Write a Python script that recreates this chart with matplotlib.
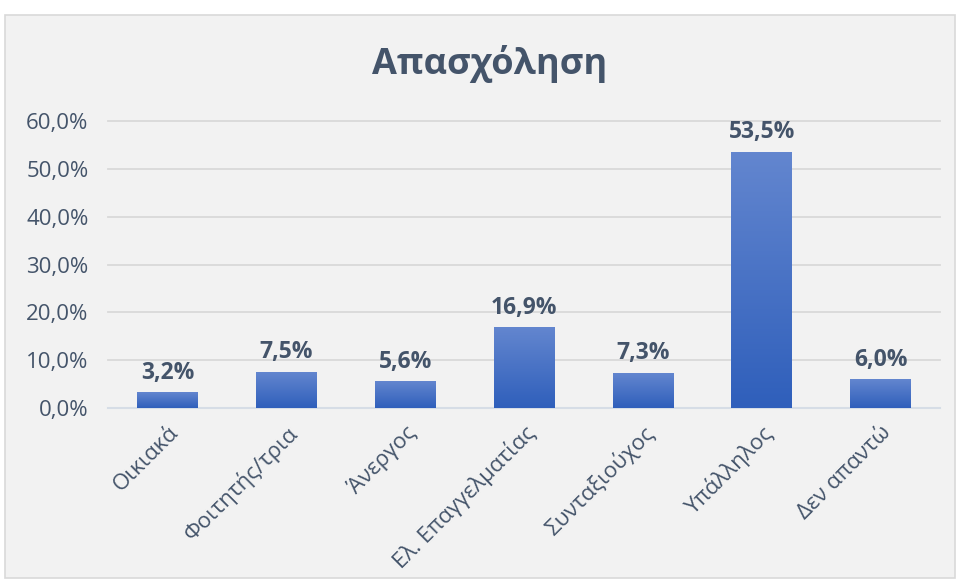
import numpy as np
import matplotlib.pyplot as plt
from matplotlib.colors import LinearSegmentedColormap
from matplotlib.patches import Rectangle

plt.rcParams["font.family"] = ["Open Sans", "DejaVu Sans"]

categories = ["Οικιακά", "Φοιτητής/τρια", "Άνεργος", "Ελ. Επαγγελματίας",
              "Συνταξιούχος", "Υπάλληλος", "Δεν απαντώ"]
values = [3.2, 7.5, 5.6, 16.9, 7.3, 53.5, 6.0]
yticks = [0, 10, 20, 30, 40, 50, 60]

TEXT = "#44546a"
BG = "#f2f2f2"
GRID = "#d9d9d9"

fig = plt.figure(figsize=(9.57, 5.81), dpi=100)
fig.patch.set_facecolor("white")
fig.patches.append(Rectangle((5 / 957, 1 - 578 / 581), 950 / 957, 563 / 581,
                             transform=fig.transFigure, facecolor=BG,
                             edgecolor="#d9d9d9", linewidth=1.2, zorder=-1))

ax = fig.add_axes([108 / 957, 1 - 408 / 581, 832 / 957, 287 / 581])
ax.set_facecolor(BG)
ax.patch.set_alpha(0)

# vertical gradient per bar, darker at the base
cmap = LinearSegmentedColormap.from_list("bar", ["#2f5fbb", "#6386cf"])
grad = np.linspace(0, 1, 256).reshape(-1, 1)
w = 0.51
x = np.arange(len(categories))
for xi, v in zip(x, values):
    ax.imshow(grad, cmap=cmap, origin="lower", aspect="auto",
              extent=[xi - w / 2, xi + w / 2, 0, v], zorder=3)
    ax.text(xi, v + 1.6, f"{v:.1f}%".replace(".", ","), ha="center", va="bottom",
            fontsize=16.5, fontweight="bold", color=TEXT, zorder=4)

ax.set_xlim(-0.5, len(categories) - 0.5)
ax.set_ylim(0, 60)
for t in yticks[1:]:
    ax.axhline(t, color=GRID, linewidth=1.3, zorder=1, clip_on=False)
ax.axhline(0, color="#d6dde6", linewidth=1.5, zorder=2, clip_on=False)

ax.set_yticks(yticks)
ax.set_yticklabels([f"{t:.1f}%".replace(".", ",") for t in yticks])
ax.set_xticks(x)
ax.set_xticklabels(categories, rotation=45, ha="right", va="top",
                   rotation_mode="anchor")
ax.tick_params(axis="both", length=0, colors=TEXT, labelsize=16)
ax.tick_params(axis="y", pad=14)
ax.tick_params(axis="x", pad=10)
for s in ax.spines.values():
    s.set_visible(False)

fig.text(490 / 957, 1 - 64 / 581, "Απασχόληση", ha="center", va="center",
         fontsize=26, fontweight="bold", color=TEXT)

fig.savefig("out.png", dpi=100, facecolor=fig.get_facecolor())
